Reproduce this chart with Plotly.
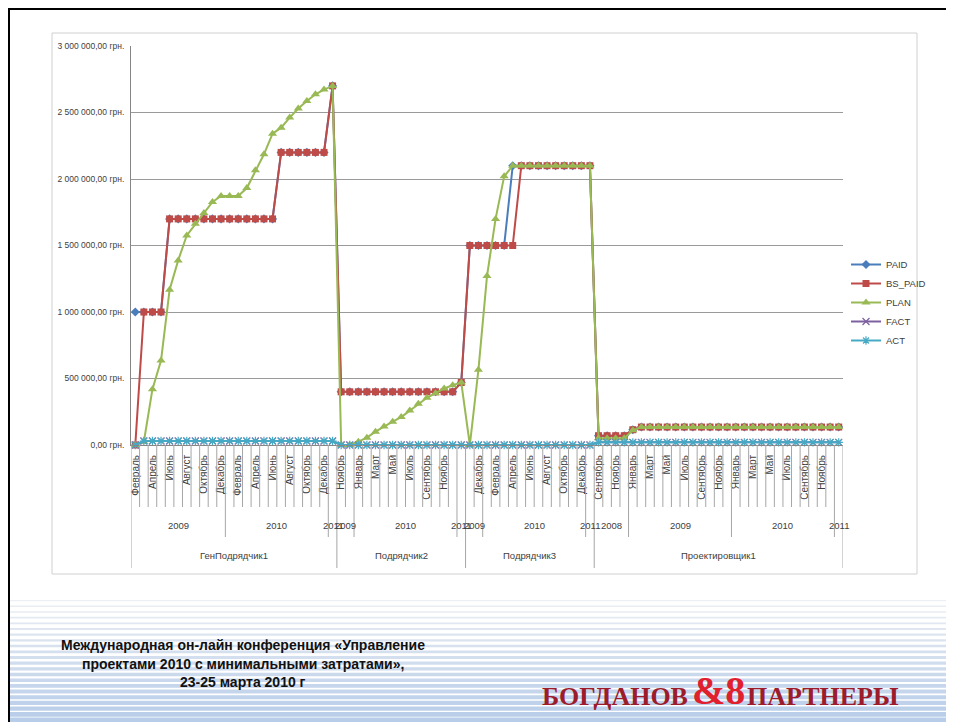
import plotly.graph_objects as go

# ---------------- categories ----------------
MONTHS = ["Январь", "Февраль", "Март", "Апрель", "Май", "Июнь", "Июль",
          "Август", "Сентябрь", "Октябрь", "Ноябрь", "Декабрь"]

contractors = ["ГенПодрядчик1", "Подрядчик2", "Подрядчик3", "Проектировщик1"]
periods = {
    "ГенПодрядчик1": [("2009", MONTHS[1:]), ("2010", MONTHS), ("2011", [""])],
    "Подрядчик2": [("2009", MONTHS[10:]), ("2010", MONTHS), ("2011", [""])],
    "Подрядчик3": [("2009", MONTHS[10:]), ("2010", MONTHS), ("2011", [""])],
    "Проектировщик1": [("2008", MONTHS[8:]), ("2009", MONTHS), ("2010", MONTHS), ("2011", [""])],
}

# ---------------- series values (грн.) ----------------
paid_gen = [1000000, 1000000, 1000000, 1000000] + [1700000] * 13 + [2200000] * 6 + [2700000]
paid_p2 = [400000] * 14 + [470000]
paid_p3 = [1500000] * 5 + [2100000] * 10
paid_pr = [70000] * 4 + [115000] + [135000] * 24

bs_paid_gen = [0, 1000000, 1000000, 1000000] + [1700000] * 13 + [2200000] * 6 + [2700000]
bs_paid_p2 = [400000] * 14 + [470000]
bs_paid_p3 = [1500000] * 6 + [2100000] * 9
bs_paid_pr = [70000] * 4 + [115000] + [135000] * 24

plan_gen = [0, 25000, 420000, 635000, 1167000, 1388000, 1576000, 1664000, 1744000,
            1827000, 1872000, 1872000, 1872000, 1932000, 2065000, 2186000, 2341000,
            2386000, 2462000, 2530000, 2587000, 2637000, 2672000, 2700000]
plan_p2 = [0, 0, 25000, 55000, 100000, 140000, 175000, 210000, 260000, 310000,
           355000, 390000, 425000, 450000, 470000]
plan_p3 = [0, 565000, 1270000, 1700000, 2020000] + [2100000] * 10
plan_pr = [50000] * 4 + [110000] + [135000] * 24

act_gen = [0] + [30000] * 23
act_p2 = [0] * 15
act_p3 = [0] * 15
act_pr = [20000] * 29

fact_gen = [0] + [30000] * 23
fact_p2 = [0] * 15
fact_p3 = [0] * 15
fact_pr = [20000] * 29

y_tick_vals = [0, 500000, 1000000, 1500000, 2000000, 2500000, 3000000]
y_tick_text = ["0,00 грн.", "500 000,00 грн.", "1 000 000,00 грн.", "1 500 000,00 грн.",
               "2 000 000,00 грн.", "2 500 000,00 грн.", "3 000 000,00 грн."]

PAID = paid_gen + paid_p2 + paid_p3 + paid_pr
BS_PAID = bs_paid_gen + bs_paid_p2 + bs_paid_p3 + bs_paid_pr
PLAN = plan_gen + plan_p2 + plan_p3 + plan_pr
FACT = fact_gen + fact_p2 + fact_p3 + fact_pr
ACT = act_gen + act_p2 + act_p3 + act_pr

# ---------------- build hierarchical category positions ----------------
cat_month, year_segments, contr_segments = [], [], []
idx = 0
for c in contractors:
    c_start = idx
    for (yr, months) in periods[c]:
        y_start = idx
        for m in months:
            cat_month.append(m)
            idx += 1
        year_segments.append((yr, y_start, idx - 1))
    contr_segments.append((c, c_start, idx - 1))
N = idx
xs = list(range(N))

# ---------------- figure ----------------
OFF = 8                       # page body margin
W, H = 954 - OFF, 722 - OFF
L, R, T, B = 131, 843, 46, 445   # plot area in page pixels
SANS = "Liberation Sans, Arial, sans-serif"
SERIF = "Liberation Serif, Times New Roman, serif"
TXT = "#404040"

def px_x(p):
    return (p - L) / (R - L)

def px_y(p):
    return (B - p) / (B - T)

fig = go.Figure()
series = [
    ("PAID", PAID, "#4A7EBB", dict(symbol="diamond", size=7)),
    ("BS_PAID", BS_PAID, "#BE4B48", dict(symbol="square", size=7)),
    ("PLAN", PLAN, "#98B954", dict(symbol="triangle-up", size=8)),
    ("FACT", FACT, "#7D60A0", dict(symbol="x-thin-open", size=7, line=dict(width=1.2, color="#7D60A0"))),
    ("ACT", ACT, "#46AAC5", dict(symbol="asterisk-open", size=7, line=dict(width=1.2, color="#46AAC5"))),
]
for name, vals, col, mk in series:
    mk = dict(mk)
    mk["color"] = col
    fig.add_trace(go.Scatter(x=xs, y=vals, name=name, mode="lines+markers",
                             line=dict(color=col, width=2), marker=mk, cliponaxis=False))

shapes = []
# bottom banner stripes
n_str = 22
for k in range(n_str):
    t = k / (n_str - 1)
    ytop = 600 + k * 5.6
    hgt = 1.2 + 3.6 * t
    r = int(236 - (236 - 184) * t)
    g = int(239 - (239 - 205) * t)
    b = int(243 - (243 - 234) * t)
    shapes.append(dict(type="rect", xref="paper", yref="paper",
                       x0=px_x(OFF), x1=px_x(951), y0=px_y(ytop + hgt), y1=px_y(ytop),
                       fillcolor=f"rgb({r},{g},{b})", line=dict(width=0), layer="below"))
# chart frame
shapes.append(dict(type="rect", xref="paper", yref="paper",
                   x0=px_x(52), x1=px_x(917), y0=px_y(574), y1=px_y(33),
                   line=dict(color="#D0D0D0", width=1), layer="below"))
# slide black border
for (x0, y0, x1, y1) in [(OFF, OFF + 1, 952, OFF + 1), (OFF + 1, OFF, OFF + 1, 722), (952, OFF, 952, 722)]:
    shapes.append(dict(type="line", xref="paper", yref="paper",
                       x0=px_x(x0), x1=px_x(x1), y0=px_y(y0), y1=px_y(y1),
                       line=dict(color="black", width=2)))

# category separators
SEP = "#A6A6A6"
month_bottom, year_bottom, contr_bottom = px_y(507), px_y(537), px_y(568)
year_bounds = set()
for (_, s, e) in year_segments:
    year_bounds.add(s - 0.5)
    year_bounds.add(e + 0.5)
contr_bounds = set()
for (_, s, e) in contr_segments:
    contr_bounds.add(s - 0.5)
    contr_bounds.add(e + 0.5)
for i in range(N + 1):
    xb = i - 0.5
    if xb in contr_bounds:
        yb = contr_bottom
    elif xb in year_bounds:
        yb = year_bottom
    else:
        yb = month_bottom
    shapes.append(dict(type="line", xref="x", yref="paper", x0=xb, x1=xb, y0=0, y1=yb,
                       line=dict(color=SEP, width=1)))

annotations = []
for (yr, s, e) in year_segments:
    annotations.append(dict(x=(s + e) / 2, y=px_y(525), xref="x", yref="paper", text=yr,
                            xanchor="center", yanchor="middle",
                            showarrow=False, font=dict(family=SANS, size=9.5, color=TXT)))
for (c, s, e) in contr_segments:
    annotations.append(dict(x=(s + e) / 2, y=px_y(555), xref="x", yref="paper", text=c,
                            xanchor="center", yanchor="middle",
                            showarrow=False, font=dict(family=SANS, size=9.5, color=TXT)))

# footer text
footer = ["Международная он-лайн конференция «Управление",
          "проектами 2010 с минимальными затратами»,",
          "23-25 марта 2010 г"]
for line_txt, yy in zip(footer, [645, 664, 682]):
    annotations.append(dict(x=px_x(243), y=px_y(yy), xref="paper", yref="paper",
                            xanchor="center", yanchor="middle",
                            text=f"<b>{line_txt}</b>", showarrow=False,
                            font=dict(family=SANS, size=14, color="#111111")))
# logo
annotations.append(dict(x=px_x(690), y=px_y(696), xref="paper", yref="paper",
                        xanchor="right", yanchor="middle",
                        text="<b>БОГДАНОВ</b>", showarrow=False,
                        font=dict(family=SERIF, size=26, color="#9C1C2C")))
annotations.append(dict(x=px_x(690), y=px_y(690), xref="paper", yref="paper",
                        xanchor="left", yanchor="middle",
                        text="<b>&amp;8</b>", showarrow=False,
                        font=dict(family=SERIF, size=40, color="#E1202E")))
annotations.append(dict(x=px_x(745), y=px_y(696), xref="paper", yref="paper",
                        xanchor="left", yanchor="middle",
                        text="<b>ПАРТНЕРЫ</b>", showarrow=False,
                        font=dict(family=SERIF, size=26, color="#9C1C2C")))

fig.update_layout(
    width=W, height=H,
    margin=dict(l=L - OFF, r=954 - R, t=T - OFF, b=722 - B),
    paper_bgcolor="white", plot_bgcolor="white",
    showlegend=True,
    legend=dict(x=px_x(846), y=px_y(250), xanchor="left", yanchor="top",
                font=dict(family=SANS, size=9.5, color=TXT),
                bgcolor="rgba(0,0,0,0)", itemwidth=30, tracegroupgap=0),
    xaxis=dict(range=[-0.5, N - 0.5], tickmode="array",
               tickvals=[i for i in range(0, N, 2)],
               ticktext=[cat_month[i] for i in range(0, N, 2)],
               tickangle=-90, ticks="outside", ticklen=5, tickcolor="rgba(0,0,0,0)",
               tickfont=dict(family=SANS, size=10, color=TXT),
               showgrid=False, zeroline=False, showline=True, linecolor="#868686", linewidth=1,
               fixedrange=True),
    yaxis=dict(range=[0, 3000000], tickmode="array", tickvals=y_tick_vals, ticktext=y_tick_text,
               ticks="outside", ticklen=4, tickcolor="rgba(0,0,0,0)",
               tickfont=dict(family=SANS, size=8.5, color=TXT),
               showgrid=True, gridcolor="#9A9A9A", gridwidth=1, zeroline=False,
               showline=True, linecolor="#868686", linewidth=1, fixedrange=True),
    shapes=shapes, annotations=annotations,
)

fig.write_html("out.html")
